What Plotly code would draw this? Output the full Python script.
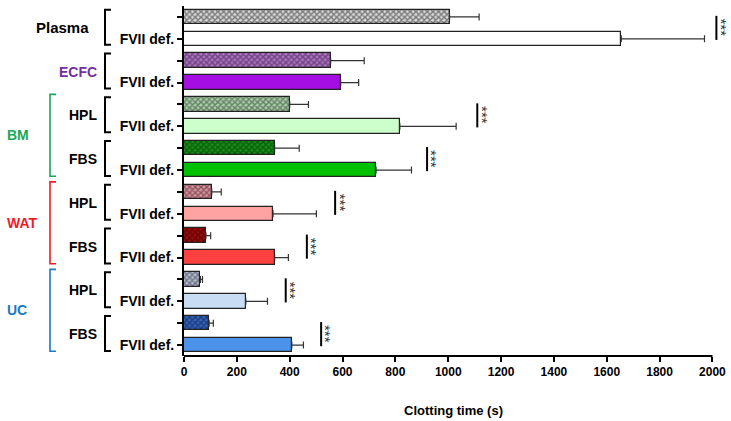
import plotly.graph_objects as go

# ---------------- data ----------------
groups = ["Plasma", "ECFC", "BM HPL", "BM FBS", "WAT HPL", "WAT FBS", "UC HPL", "UC FBS"]
ctrl_vals = [1005, 555, 400, 343, 105, 83, 62, 95]
ctrl_errs = [112, 127, 71, 93, 36, 18, 8, 16]
def_vals = [1655, 593, 817, 727, 337, 343, 234, 408]
def_errs = [315, 68, 213, 134, 164, 52, 82, 44]
def_label = "FVII def."
x_ticks = [0, 200, 400, 600, 800, 1000, 1200, 1400, 1600, 1800, 2000]
x_title = "Clotting time (s)"
# significance bar position (s) per group, None = no mark
sig_x = [2015, None, 1110, 920, 572, 465, 385, 519]
sig_text = "***"
# inner group labels (per pair) and outer source labels
inner_labels = ["Plasma", "ECFC", "HPL", "FBS", "HPL", "FBS", "HPL", "FBS"]
inner_colors = ["#000000", "#7030a0", "#000000", "#000000", "#000000", "#000000", "#000000", "#000000"]
outer_labels = ["BM", "WAT", "UC"]
outer_pairs = [(2, 3), (4, 5), (6, 7)]
outer_colors = ["#17a858", "#ee1c25", "#1a7ac4"]

# ---------------- styles ----------------
ctrl_bg = ["#dcdcdc", "#a878bc", "#acccac", "#189018", "#d498a0", "#a00a0a", "#b8c0d0", "#3464bc"]
ctrl_fg = ["#111111", "#3c0c4c", "#1e3a1e", "#002c00", "#4a1020", "#280000", "#20283a", "#081640"]
def_col = ["#ffffff", "#a40ee2", "#ccffcc", "#00c000", "#ffa2a2", "#fd4040", "#c8dcf4", "#4a92ea"]

W, H = 731, 421
ML, MR, MT, MB = 184, 8, 6, 65
PW = W - ML - MR
FONT = "Arial, Liberation Sans, sans-serif"


def px(xpix):
    return (xpix - ML) / PW


fig = go.Figure()
n = len(groups)
for g in range(n):
    yc, yd = 2 * g, 2 * g + 1
    fig.add_trace(go.Bar(
        x=[ctrl_vals[g]], y=[yc], orientation="h", width=0.66,
        marker=dict(color=ctrl_bg[g], line=dict(color="#222222", width=1.2),
                    pattern=dict(shape="x", size=4, solidity=0.6,
                                 fgcolor=ctrl_fg[g], bgcolor=ctrl_bg[g], fillmode="overlay")),
        error_x=dict(type="data", array=[ctrl_errs[g]], arrayminus=[0], symmetric=False,
                     color="#333333", thickness=1.2, width=3.5),
        showlegend=False, hoverinfo="x"))
    fig.add_trace(go.Bar(
        x=[def_vals[g]], y=[yd], orientation="h", width=0.66,
        marker=dict(color=def_col[g], line=dict(color="#222222", width=1.2)),
        error_x=dict(type="data", array=[def_errs[g]], arrayminus=[0], symmetric=False,
                     color="#333333", thickness=1.2, width=3.5),
        showlegend=False, hoverinfo="x"))

shapes = []
annotations = []

# x axis line (only up to last tick)
shapes.append(dict(type="line", xref="x", yref="paper", x0=0, x1=x_ticks[-1], y0=0, y1=0,
                   line=dict(color="black", width=2)))

# significance marks
for g in range(n):
    if sig_x[g] is None:
        continue
    shapes.append(dict(type="line", xref="x", yref="y", x0=sig_x[g], x1=sig_x[g],
                       y0=2 * g - 0.05, y1=2 * g + 1.05, line=dict(color="black", width=2)))
    annotations.append(dict(x=sig_x[g], y=2 * g + 0.5, xref="x", yref="y", text=sig_text,
                            showarrow=False, textangle=90, xshift=5,
                            font=dict(size=15, color="#333333", family=FONT)))

# inner brackets + labels
bx, btip = 105, 111
for g in range(n):
    y0, y1 = 2 * g - 0.33, 2 * g + 1 + 0.27
    shapes.append(dict(type="path", xref="paper", yref="y",
                       path=f"M {px(btip)} {y0} L {px(bx)} {y0} L {px(bx)} {y1} L {px(btip)} {y1}",
                       line=dict(color="black", width=2)))
    xr = 91 if g == 0 else 99
    annotations.append(dict(x=px(xr), y=2 * g + 0.5, xref="paper", yref="y", text=inner_labels[g],
                            xanchor="right", showarrow=False,
                            font=dict(size=15 if g == 0 else 14, color=inner_colors[g],
                                      family=FONT, weight="bold")))

# outer brackets + labels
ox, otip = 50, 56
for k, (ga, gb) in enumerate(outer_pairs):
    y0, y1 = 2 * ga - 0.46, 2 * gb + 1 + 0.28
    shapes.append(dict(type="path", xref="paper", yref="y",
                       path=f"M {px(otip)} {y0} L {px(ox)} {y0} L {px(ox)} {y1} L {px(otip)} {y1}",
                       line=dict(color=outer_colors[k], width=1.6)))
    annotations.append(dict(x=px(5), y=(y0 + y1) / 2, xref="paper", yref="y", text=outer_labels[k],
                            xanchor="left", showarrow=False,
                            font=dict(size=14, color=outer_colors[k], family=FONT, weight="bold")))

tickvals = list(range(2 * n))
ticktext = ["" if i % 2 == 0 else def_label for i in tickvals]

fig.update_layout(
    width=W, height=H, margin=dict(l=ML, r=MR, t=MT, b=MB),
    paper_bgcolor="white", plot_bgcolor="white",
    bargap=0, barmode="overlay",
    font=dict(family=FONT, color="black"),
    xaxis=dict(range=[0, 2040], tickvals=x_ticks, showline=False, showgrid=False, zeroline=False,
               ticks="outside", ticklen=5, tickwidth=2, tickcolor="black",
               tickfont=dict(size=12, weight="bold", family=FONT),
               title=dict(text=x_title, font=dict(size=13, weight="bold", family=FONT), standoff=27)),
    yaxis=dict(range=[2 * n - 0.5, -0.5], tickvals=tickvals, ticktext=ticktext,
               showline=True, linewidth=2, linecolor="black", showgrid=False, zeroline=False,
               ticks="outside", ticklen=5, tickwidth=2, tickcolor="black",
               tickfont=dict(size=14, weight="bold", family=FONT)),
    shapes=shapes, annotations=annotations,
)

fig.write_html("out.html", post_script="document.body.style.margin='0';",
               config={"displayModeBar": False})
